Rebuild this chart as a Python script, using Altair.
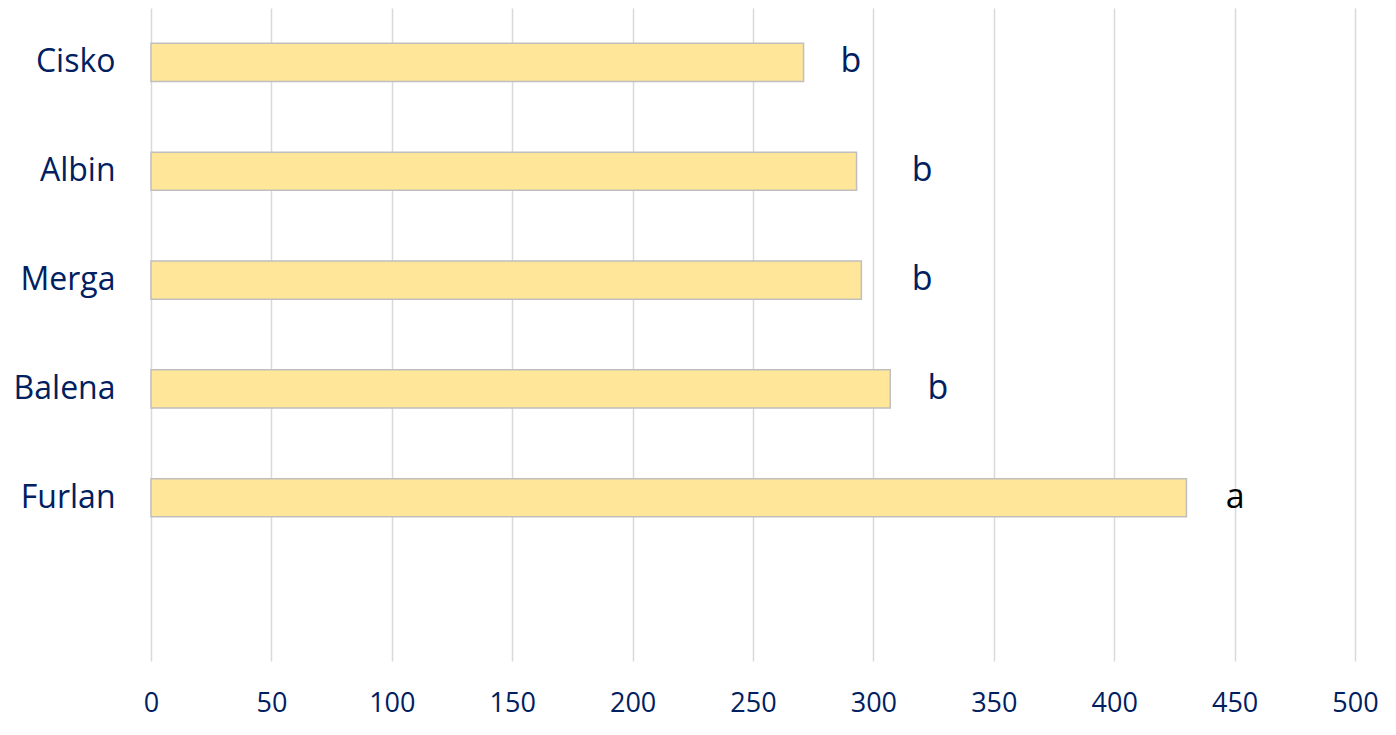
import altair as alt
import pandas as pd

categories = ["Cisko", "Albin", "Merga", "Balena", "Furlan"]
values = [271, 293, 295, 307, 430]
letters = ["b", "b", "b", "b", "a"]
letter_x = [290.7, 320.2, 320.2, 326.8, 450.2]
letter_colors = ["#002060", "#002060", "#002060", "#002060", "#000000"]
x_ticks = [0, 50, 100, 150, 200, 250, 300, 350, 400, 450, 500]

y_domain = categories + [" "]

df = pd.DataFrame({
    "cat": categories,
    "value": values,
    "letter": letters,
    "lx": letter_x,
    "lcolor": letter_colors,
})

FONT = "Open Sans"
NAVY = "#002060"

y_enc = alt.Y(
    "cat:N",
    sort=y_domain,
    scale=alt.Scale(domain=y_domain, paddingInner=0.65, paddingOuter=0.325),
    axis=alt.Axis(
        title=None, domain=False, ticks=False, grid=False,
        labelFont=FONT, labelFontSize=32, labelColor=NAVY, labelPadding=36,
    ),
)

bars = alt.Chart(df).mark_bar(
    color="#FFE699", stroke="#BFBFBF", strokeWidth=1.5
).encode(
    x=alt.X(
        "value:Q",
        scale=alt.Scale(domain=[0, 500], nice=False),
        axis=alt.Axis(
            title=None, values=x_ticks, domain=False, ticks=False,
            grid=True, gridColor="#D9D9D9", gridWidth=1.5,
            labelFont=FONT, labelFontSize=27, labelColor=NAVY, labelPadding=29,
            labelFlush=False, labelOverlap=False,
        ),
    ),
    y=y_enc,
)

texts = alt.Chart(df).mark_text(
    font=FONT, fontSize=34, align="center", baseline="middle"
).encode(
    x=alt.X("lx:Q"),
    y=alt.Y("cat:N", sort=y_domain),
    text="letter:N",
    color=alt.Color("lcolor:N", scale=None),
)

chart = alt.layer(bars, texts).properties(
    width=1204,
    height=653,
    autosize=alt.AutoSizeParams(type="none"),
    padding={"left": 143, "top": 0, "right": 30, "bottom": 70},
).configure_view(stroke=None)

chart.save("out.html", embed_options={"renderer": "svg", "actions": False})
